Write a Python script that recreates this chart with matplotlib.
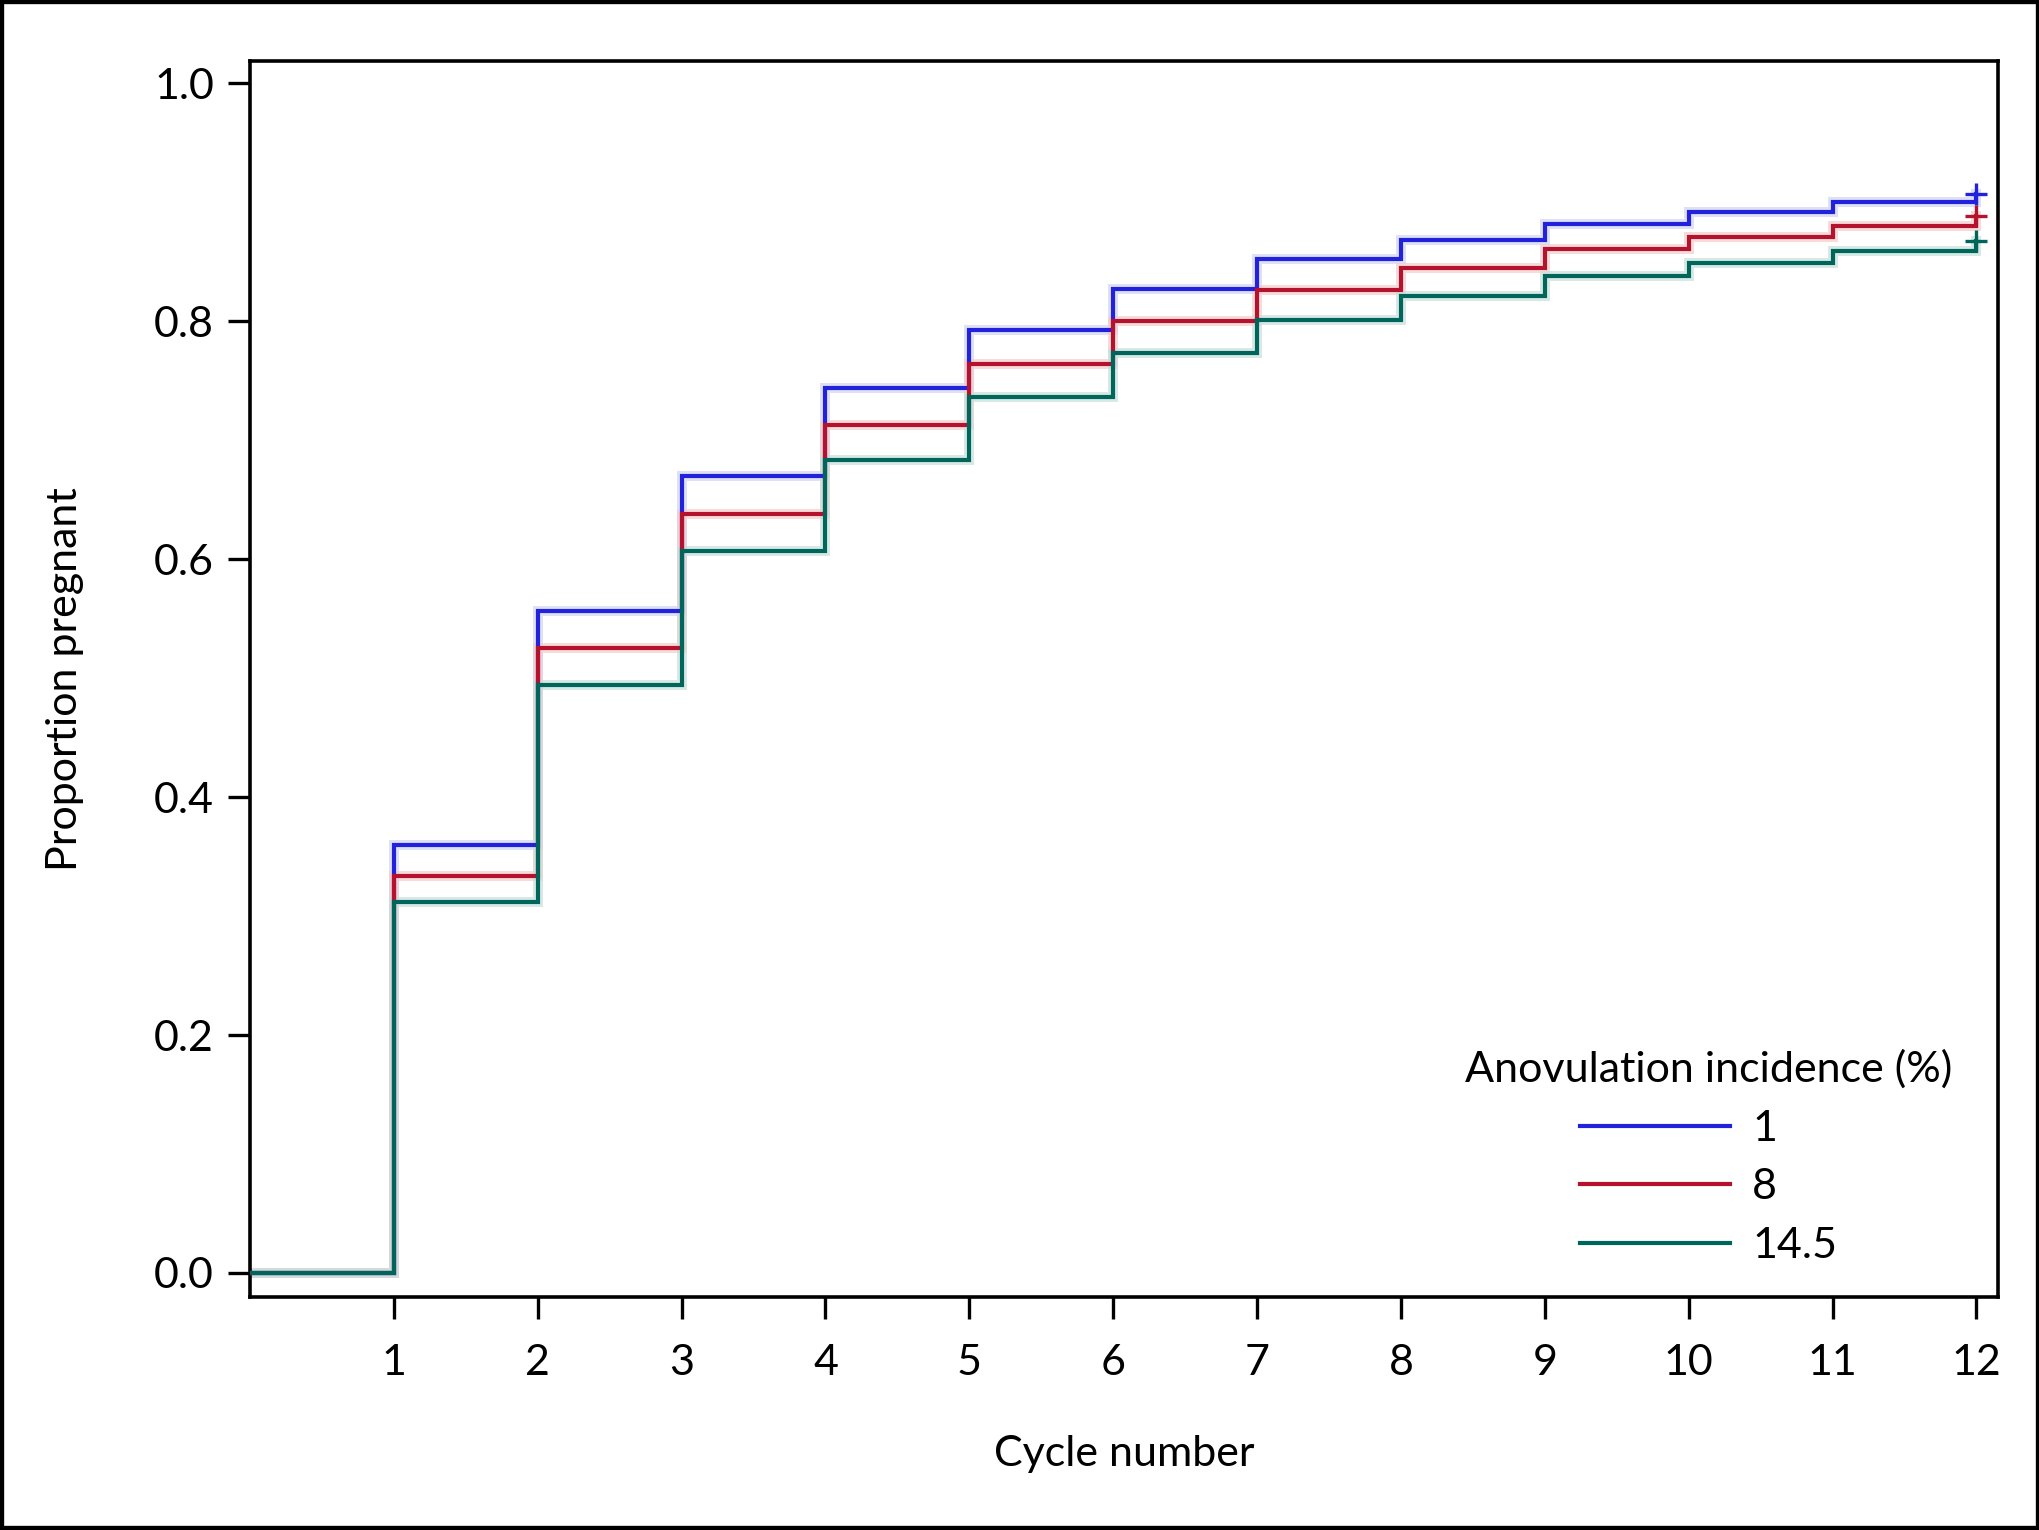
import matplotlib
matplotlib.use("Agg")
import matplotlib.pyplot as plt
from matplotlib.ticker import FormatStrFormatter
from matplotlib.patches import Rectangle

# ---- data ----
cycles = [0, 1, 2, 3, 4, 5, 6, 7, 8, 9, 10, 11, 12]
series_labels = ["1", "8", "14.5"]
blue_vals  = [0.0, 0.360, 0.556, 0.670, 0.744, 0.793, 0.827, 0.852, 0.868, 0.882, 0.892, 0.900, 0.907]
red_vals   = [0.0, 0.334, 0.525, 0.638, 0.713, 0.764, 0.800, 0.826, 0.845, 0.861, 0.871, 0.880, 0.888]
green_vals = [0.0, 0.312, 0.494, 0.607, 0.683, 0.736, 0.773, 0.801, 0.821, 0.838, 0.849, 0.859, 0.867]
x_ticks = [1, 2, 3, 4, 5, 6, 7, 8, 9, 10, 11, 12]
y_ticks = [0.0, 0.2, 0.4, 0.6, 0.8, 1.0]

colors = ["#2222dd", "#b5122e", "#00665c"]
halo_colors = ["#d0d4f2", "#f4cccc", "#c8e0db"]

plt.rcParams['font.family'] = ['Lato', 'DejaVu Sans']

W, H, DPI = 2040, 1530, 200
fig = plt.figure(figsize=(W / DPI, H / DPI), dpi=DPI)
ax = fig.add_axes([250 / W, 1 - 1297 / H, (1998 - 250) / W, (1297 - 61) / H])

all_vals = [blue_vals, red_vals, green_vals]
for vals, hc in zip(all_vals, halo_colors):
    ax.step(cycles, vals, where="post", color=hc, lw=3.6, alpha=0.7,
            solid_joinstyle="miter", zorder=2)
handles = []
for vals, c, lab in zip(all_vals, colors, series_labels):
    h, = ax.step(cycles, vals, where="post", color=c, lw=1.5, label=lab,
                 solid_joinstyle="miter", zorder=3)
    ax.plot([cycles[-1]], [vals[-1]], marker="+", ms=8, mew=1.2,
            color=c, linestyle="none", zorder=4)
    handles.append(h)

ax.set_xlim(0, 12.15)
ax.set_ylim(-0.0202, 1.0187)
ax.set_xticks(x_ticks)
ax.set_yticks(y_ticks)
ax.yaxis.set_major_formatter(FormatStrFormatter('%.1f'))
ax.tick_params(axis="both", direction="out", length=8, width=1.2,
               labelsize=15.5, colors="black")
ax.tick_params(axis="x", pad=9)
ax.tick_params(axis="y", pad=5)
for s in ax.spines.values():
    s.set_linewidth(1.3)
    s.set_color("black")

ax.set_xlabel("Cycle number", fontsize=15.5, labelpad=19)
ax.set_ylabel("Proportion pregnant", fontsize=15.5, labelpad=25)

leg = ax.legend(handles=handles, title="Anovulation incidence (%)",
                loc="lower right", bbox_to_anchor=(1952 / W, 1 - 1265 / H),
                bbox_transform=fig.transFigure, frameon=False,
                fontsize=15.5, title_fontsize=15.5, handlelength=3.5,
                handletextpad=0.5, labelspacing=0.48, borderpad=0,
                borderaxespad=0)
leg.get_title().set_ha("center")
for lh in leg.get_lines():
    lh.set_linewidth(1.5)

fig.patches.append(Rectangle((0, 0), 1, 1, transform=fig.transFigure,
                             fill=False, edgecolor="black", lw=3.0,
                             zorder=10))

fig.savefig("out.png", dpi=DPI)
